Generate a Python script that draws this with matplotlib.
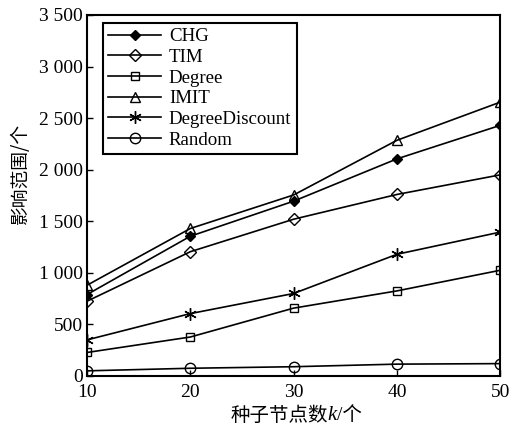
import matplotlib
matplotlib.use("Agg")
import matplotlib.pyplot as plt
import matplotlib.ticker as ticker
from matplotlib.offsetbox import TextArea, HPacker, AnchoredOffsetbox

plt.rcParams["font.family"] = ["Liberation Serif", "Noto Sans CJK SC"]

k = [10, 20, 30, 40, 50]
chg = [790, 1355, 1695, 2105, 2430]
tim = [725, 1205, 1520, 1760, 1950]
degree = [228, 378, 658, 825, 1025]
imit = [880, 1430, 1755, 2285, 2655]
degree_discount = [350, 605, 800, 1180, 1395]
random_ = [50, 75, 90, 115, 120]

# name, values, marker, face colour, marker size
series = [
    ("CHG", chg, "D", "k", 5),
    ("TIM", tim, "D", "none", 6),
    ("Degree", degree, "s", "none", 6),
    ("IMIT", imit, "^", "none", 7.5),
    ("DegreeDiscount", degree_discount, (6, 2, 0), "k", 9),
    ("Random", random_, "o", "none", 7.5),
]

FS = 14
fig = plt.figure(figsize=(5.12, 4.28), dpi=100)
ax = fig.add_axes([0.170, 0.1215, 0.807, 0.8435])

for name, vals, mk, fc, ms in series:
    ax.plot(k, vals, color="k", lw=1.2, marker=mk, ms=ms, mfc=fc, mec="k",
            mew=1.0, label=name)

ax.set_xlim(10, 50)
ax.set_ylim(0, 3500)
ax.xaxis.set_major_locator(ticker.MultipleLocator(10))
ax.yaxis.set_major_locator(ticker.MultipleLocator(500))
ax.yaxis.set_major_formatter(ticker.FuncFormatter(
    lambda v, p: f"{int(v):,}".replace(",", " ")))
ax.tick_params(direction="in", length=4, width=1.0, labelsize=FS)
ax.tick_params(axis="x", pad=6)
ax.tick_params(axis="y", pad=3)
for s in ax.spines.values():
    s.set_linewidth(1.5)

fig.text(20 / 512, 1 - 173 / 428, "影响范围/个", rotation=90, ha="center", va="center",
         fontsize=13.5, family=["Noto Sans CJK SC"])

# x label with italic k, built from three pieces
parts = [
    TextArea("种子节点数", textprops=dict(fontsize=FS, family=["Noto Sans CJK SC"])),
    TextArea("k", textprops=dict(fontsize=FS + 1, family=["Liberation Serif"], style="italic")),
    TextArea("/个", textprops=dict(fontsize=FS, family=["Liberation Serif", "Noto Sans CJK SC"])),
]
xl = HPacker(children=parts, align="baseline", pad=0, sep=0)
ab = AnchoredOffsetbox(loc="center", child=xl, frameon=False,
                       bbox_to_anchor=(296 / 512, 1 - 415 / 428), bbox_transform=fig.transFigure,
                       borderpad=0, pad=0)
ax.add_artist(ab)

leg = ax.legend(loc="upper left", bbox_to_anchor=(0.039, 0.978), fontsize=13.6,
                handlelength=2.8, handletextpad=0.4, labelspacing=0.18,
                borderpad=0.28, borderaxespad=0, fancybox=False, edgecolor="k",
                framealpha=1)
leg.get_frame().set_linewidth(1.5)

fig.savefig("out.png", dpi=100)
